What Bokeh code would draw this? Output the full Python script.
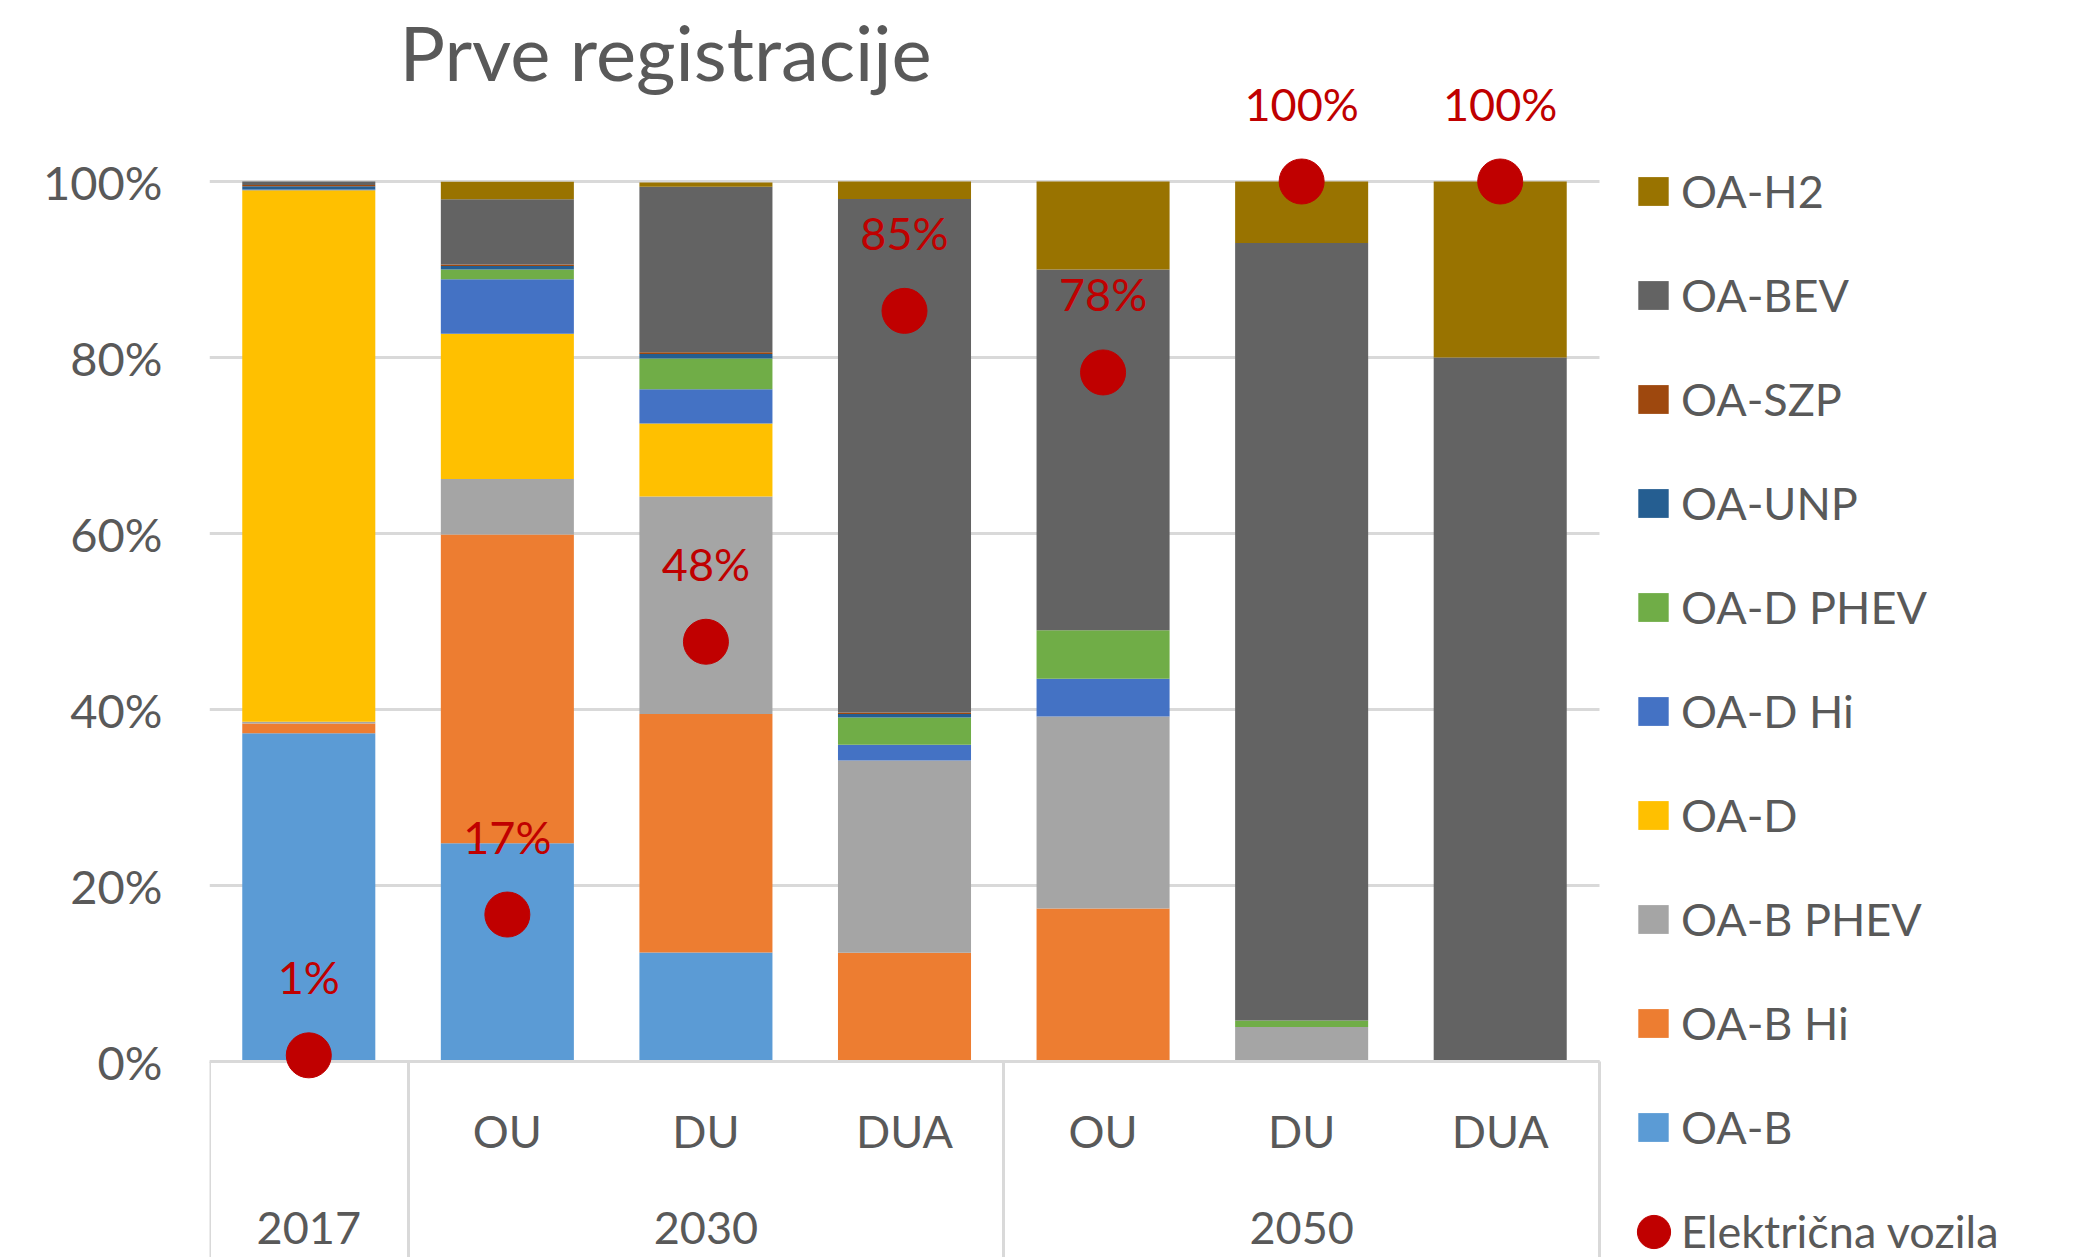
from bokeh.plotting import figure
from bokeh.models import (Range1d, ColumnDataSource, LinearAxis, FixedTicker,
                          Legend, LegendItem, LabelSet, Label)
from bokeh.core.properties import value
from bokeh.embed import file_html
from bokeh.resources import INLINE

# ---------------- data ----------------
title_text = "Prve registracije"
categories = ["2017", "2030 OU", "2030 DU", "2030 DUA", "2050 OU", "2050 DU", "2050 DUA"]
sub_labels = ["", "OU", "DU", "DUA", "OU", "DU", "DUA"]
group_labels = ["2017", "2030", "2050"]
group_sizes = [1, 3, 3]

series_names = ["OA-B", "OA-B Hi", "OA-B PHEV", "OA-D", "OA-D Hi", "OA-D PHEV",
                "OA-UNP", "OA-SZP", "OA-BEV", "OA-H2"]
oa_b      = [37.3, 24.8, 12.4, 0.0, 0.0, 0.0, 0.0]
oa_b_hi   = [1.1, 35.1, 27.1, 12.35, 17.4, 0.0, 0.0]
oa_b_phev = [0.2, 6.3, 24.7, 21.85, 21.8, 3.92, 0.0]
oa_d      = [60.4, 16.5, 8.3, 0.0, 0.0, 0.0, 0.0]
oa_d_hi   = [0.1, 6.2, 3.9, 1.8, 4.3, 0.0, 0.0]
oa_d_phev = [0.0, 1.1, 3.5, 3.1, 5.5, 0.73, 0.0]
oa_unp    = [0.35, 0.4, 0.5, 0.4, 0.0, 0.0, 0.0]
oa_szp    = [0.15, 0.17, 0.2, 0.15, 0.0, 0.0, 0.0]
oa_bev    = [0.4, 7.4, 18.8, 58.35, 41.0, 88.35, 80.0]
oa_h2     = [0.0, 2.0, 0.5, 2.0, 10.0, 7.0, 20.0]

ev_name = "Električna vozila"
ev_share = [0.7, 16.7, 47.7, 85.3, 78.3, 100.0, 100.0]
ev_labels = ["1%", "17%", "48%", "85%", "78%", "100%", "100%"]

y_ticks = [0, 20, 40, 60, 80, 100]
y_tick_labels = ["0%", "20%", "40%", "60%", "80%", "100%"]

colors = ["#5B9BD5", "#ED7D31", "#A5A5A5", "#FFC000", "#4472C4", "#70AD47",
          "#255E91", "#9E480E", "#636363", "#997300"]
ev_color = "#C00000"

# ---------------- style / layout ----------------
FONT = "Lato"
FS = "45px"
TXT = "#595959"
GRID = "#D9D9D9"
W, H = 2084, 1257
FL = 209                 # frame left (px); frame spans to the right / bottom / top edges
PLOT_R = 1599            # right end of the bar area (px)
Y0, Y100 = 1061, 181     # pixel rows of the 0 % and 100 % lines

n = len(categories)
px_per_unit = (Y0 - Y100) / 100.0
y_top = 100 + Y100 / px_per_unit
y_bot = -(H - Y0) / px_per_unit
x_end = n * (W - FL) / (PLOT_R - FL)

x_pos = [i + 0.5 for i in range(n)]          # category slots on the x scale

keys = ["s%d" % i for i in range(len(series_names))]
series_vals = [oa_b, oa_b_hi, oa_b_phev, oa_d, oa_d_hi, oa_d_phev, oa_unp, oa_szp, oa_bev, oa_h2]
data = dict(cat=categories, x=x_pos, ev=ev_share, ev_label=ev_labels)
for k, v in zip(keys, series_vals):
    data[k] = v
src = ColumnDataSource(data)

p = figure(width=W, height=H, x_range=Range1d(0, x_end), y_range=Range1d(y_bot, y_top),
           output_backend="svg", toolbar_location=None, title=None,
           x_axis_location=None, y_axis_location="left",
           min_border_left=FL, min_border_right=0, min_border_top=0, min_border_bottom=0)
p.outline_line_color = None
p.background_fill_color = "white"

# title
p.add_layout(Label(x=190, y=H - 51, x_units="screen", y_units="screen", text=title_text,
                   text_font=FONT, text_font_size="76px", text_color=TXT,
                   text_baseline="middle", text_align="left"))

# y axis
p.yaxis.ticker = FixedTicker(ticks=y_ticks)
p.yaxis.major_label_overrides = dict(zip(y_ticks, y_tick_labels))
p.yaxis.axis_line_color = None
p.yaxis.major_tick_line_color = None
p.yaxis.minor_tick_line_color = None
p.yaxis.major_label_standoff = 41
p.yaxis.major_label_text_font = FONT
p.yaxis.major_label_text_font_size = "47px"
p.yaxis.major_label_text_color = TXT

# horizontal gridlines limited to the bar area
p.xgrid.visible = False
ygrid = p.ygrid[0]
if "cross_bounds" in ygrid.properties():
    ygrid.ticker = FixedTicker(ticks=y_ticks)
    ygrid.cross_bounds = (0, n)
    ygrid.grid_line_color = GRID
    ygrid.grid_line_width = 3
else:
    ygrid.visible = False
    p.segment(x0=[0] * len(y_ticks), x1=[n] * len(y_ticks), y0=y_ticks, y1=y_ticks,
              line_color=GRID, line_width=3, level="underlay")

# stacked bars
bars = p.vbar_stack(keys, x="x", width=0.67, color=colors, line_color=None, source=src)

# electric vehicles share (dots + labels)
dots = p.scatter(x="x", y="ev", size=45, color=ev_color, source=src, level="overlay")
labels = LabelSet(x="x", y="ev", text="ev_label", source=src, y_offset=78,
                  text_align="center", text_baseline="middle",
                  text_font=value(FONT), text_font_size=FS, text_color=ev_color)
p.add_layout(labels)

# two-level category axis with group separators (both pinned at the 0 % line)
bounds = [0]
for s in group_sizes:
    bounds.append(bounds[-1] + s)
grp_pos = [(bounds[i] + bounds[i + 1]) / 2 for i in range(len(group_sizes))]

ax_sub = LinearAxis(ticker=FixedTicker(ticks=x_pos, minor_ticks=bounds),
                    major_label_overrides=dict(zip(x_pos, sub_labels)),
                    fixed_location=0, bounds=(0, n),
                    major_tick_out=0, major_tick_in=0,
                    minor_tick_out=0, minor_tick_in=-(H - Y0),
                    minor_tick_line_color=GRID, minor_tick_line_width=3,
                    axis_line_color=GRID, axis_line_width=3,
                    major_label_standoff=42,
                    major_label_text_font=FONT, major_label_text_font_size=FS,
                    major_label_text_color=TXT)
p.add_layout(ax_sub, "below")
ax_grp = LinearAxis(ticker=FixedTicker(ticks=grp_pos),
                    major_label_overrides=dict(zip(grp_pos, group_labels)),
                    fixed_location=0, bounds=(0, n),
                    major_tick_out=0, major_tick_in=0,
                    major_tick_line_color=None, minor_tick_line_color=None,
                    axis_line_color=None,
                    major_label_standoff=150,
                    major_label_text_font=FONT, major_label_text_font_size=FS,
                    major_label_text_color=TXT)
p.add_layout(ax_grp, "below")

# legends (inside the wide frame, right of the bars)
PITCH = 104
ITEM_H = 56
first_center = 191
ev_center = first_center + len(series_names) * PITCH

items = [LegendItem(label=value(nm), renderers=[r]) for nm, r in zip(series_names, bars)][::-1]
items.append(LegendItem(label=value(ev_name), renderers=[dots]))
leg_h = len(items) * ITEM_H + (len(items) - 1) * (PITCH - ITEM_H)
leg_top = first_center - ITEM_H / 2
leg = Legend(items=items, location=(1634 - FL, H - leg_h - leg_top), orientation="vertical",
             glyph_width=38, glyph_height=36, label_height=ITEM_H, spacing=PITCH - ITEM_H,
             padding=0, margin=0, label_standoff=9,
             label_text_font=FONT, label_text_font_size=FS, label_text_color=TXT,
             border_line_color=None, background_fill_alpha=0)
p.add_layout(leg)

# larger legend dot for the electric-vehicle series (glyph only)
EVBOX = 83
ev_leg = Legend(items=[LegendItem(label=value(" "), renderers=[dots])],
                location=(1653 - EVBOX / 2 - FL, H - EVBOX - (ev_center - EVBOX / 2)),
                glyph_width=EVBOX, glyph_height=EVBOX, label_height=EVBOX, label_width=0,
                label_standoff=0, padding=0, margin=0,
                label_text_font=FONT, label_text_font_size="10px",
                border_line_color=None, background_fill_alpha=0)
p.add_layout(ev_leg)

open("out.html", "w").write(file_html(p, INLINE))
